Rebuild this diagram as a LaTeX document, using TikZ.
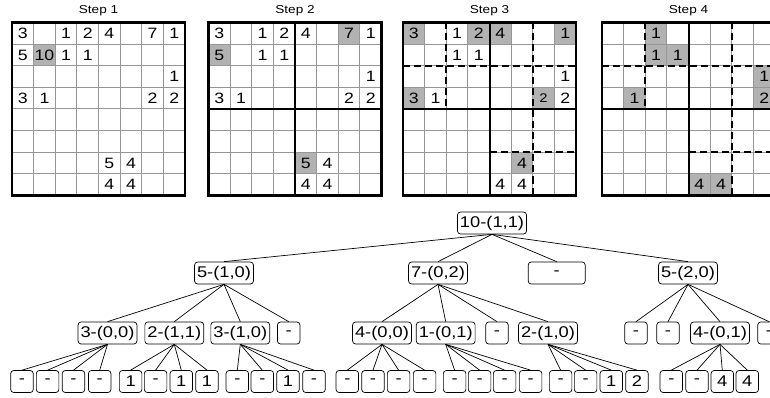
\documentclass[tikz,border=0pt]{standalone}
\usepackage{fontspec}
\setmainfont{Liberation Sans}
\newfontfamily\wsf[FakeStretch=1.18]{Liberation Sans}
\definecolor{cellgray}{RGB}{178,178,178}
\definecolor{linegray}{RGB}{150,150,150}
\def\cw{21.625}
\tikzset{
  numtxt/.style={font=\wsf\fontsize{15}{15}\selectfont, inner sep=0pt},
  smallnum/.style={font=\wsf\fontsize{12.5}{13}\selectfont, inner sep=0pt},
  tbox/.style={draw, line width=0.7pt, rounded corners=3pt, font=\wsf\fontsize{15.5}{16}\selectfont, minimum height=22pt, minimum width=22.5pt, inner xsep=2.5pt, inner ysep=0pt},
  lvlone/.style={tbox, minimum width=57pt},
  edge/.style={line width=0.7pt},
  gridthin/.style={linegray, line width=1pt},
  thickline/.style={line width=2pt},
  border/.style={line width=2.6pt},
  dashline/.style={line width=2.2pt, dash pattern=on 7pt off 4pt},
  title/.style={font=\wsf\fontsize{11.5}{12}\selectfont, inner sep=0pt}
}
\newcommand\gfill[2]{\fill[cellgray] ({#2*\cw},{#1*\cw}) rectangle ++(\cw,\cw);}
\newcommand\gnum[4]{\node[numtxt] (#1) at ({(#3+0.5)*\cw},{(#2+0.5)*\cw}) {#4};}
\newcommand\glines{%
  \foreach \i in {1,...,7} {
    \draw[gridthin] ({\i*\cw},0) -- ({\i*\cw},173);
    \draw[gridthin] (0,{\i*\cw}) -- (173,{\i*\cw});
  }}
\newcommand\gmid{%
  \draw[thickline] ({4*\cw},0) -- ({4*\cw},173);
  \draw[thickline] (0,{4*\cw}) -- (173,{4*\cw});}
\newcommand\gdash{%
  \draw[dashline] ({2*\cw},0) -- ({2*\cw},{4*\cw});
  \draw[dashline] (0,{2*\cw}) -- ({8*\cw},{2*\cw});
  \draw[dashline] ({6*\cw},0) -- ({6*\cw},{8*\cw});
  \draw[dashline] ({4*\cw},{6*\cw}) -- ({8*\cw},{6*\cw});}
\newcommand\leaf[4]{\node[tbox] (#1) at (#2,381.5) {#3}; \draw[edge] (#4.south) -- (#1.north);}
\begin{document}
\begin{tikzpicture}[x=1pt,y=-1pt]
\useasboundingbox (0,0) rectangle (770,398);
\fill[white] (0,0) rectangle (770,398);

% ---------- Step 1
\begin{scope}[shift={(12,22.5)}]
  \node[title] (t1) at (86.5,-11.5) {Step 1};
  \gfill{1}{1}
  \glines
  \draw[border] (0,0) rectangle (173,173);
  \gnum{a00}{0}{0}{3}\gnum{a02}{0}{2}{1}\gnum{a03}{0}{3}{2}\gnum{a04}{0}{4}{4}\gnum{a06}{0}{6}{7}\gnum{a07}{0}{7}{1}
  \gnum{a10}{1}{0}{5}\gnum{a11}{1}{1}{10}\gnum{a12}{1}{2}{1}\gnum{a13}{1}{3}{1}
  \gnum{a27}{2}{7}{1}
  \gnum{a30}{3}{0}{3}\gnum{a31}{3}{1}{1}\gnum{a36}{3}{6}{2}\gnum{a37}{3}{7}{2}
  \gnum{a64}{6}{4}{5}\gnum{a65}{6}{5}{4}
  \gnum{a74}{7}{4}{4}\gnum{a75}{7}{5}{4}
\end{scope}

% ---------- Step 2
\begin{scope}[shift={(208.5,22.5)}]
  \node[title] (t2) at (86.5,-11.5) {Step 2};
  \gfill{1}{0}\gfill{0}{6}\gfill{6}{4}
  \glines
  \gmid
  \draw[border] (0,0) rectangle (173,173);
  \gnum{b00}{0}{0}{3}\gnum{b02}{0}{2}{1}\gnum{b03}{0}{3}{2}\gnum{b04}{0}{4}{4}\gnum{b06}{0}{6}{7}\gnum{b07}{0}{7}{1}
  \gnum{b10}{1}{0}{5}\gnum{b12}{1}{2}{1}\gnum{b13}{1}{3}{1}
  \gnum{b27}{2}{7}{1}
  \gnum{b30}{3}{0}{3}\gnum{b31}{3}{1}{1}\gnum{b36}{3}{6}{2}\gnum{b37}{3}{7}{2}
  \gnum{b64}{6}{4}{5}\gnum{b65}{6}{5}{4}
  \gnum{b74}{7}{4}{4}\gnum{b75}{7}{5}{4}
\end{scope}

% ---------- Step 3
\begin{scope}[shift={(403,22.5)}]
  \node[title] (t3) at (86.5,-11.5) {Step 3};
  \gfill{0}{0}\gfill{0}{3}\gfill{0}{4}\gfill{0}{7}\gfill{3}{0}\gfill{3}{6}\gfill{6}{5}
  \glines
  \gdash
  \gmid
  \draw[border] (0,0) rectangle (173,173);
  \gnum{c00}{0}{0}{3}\gnum{c02}{0}{2}{1}\gnum{c03}{0}{3}{2}\gnum{c04}{0}{4}{4}\gnum{c07}{0}{7}{1}
  \gnum{c12}{1}{2}{1}\gnum{c13}{1}{3}{1}
  \gnum{c27}{2}{7}{1}
  \gnum{c30}{3}{0}{3}\gnum{c31}{3}{1}{1}\node[smallnum] (c36) at ({6.5*\cw},{3.5*\cw}) {2};\gnum{c37}{3}{7}{2}
  \gnum{c65}{6}{5}{4}
  \gnum{c74}{7}{4}{4}\gnum{c75}{7}{5}{4}
\end{scope}

% ---------- Step 4
\begin{scope}[shift={(602,22.5)}]
  \node[title] (t4) at (86.5,-11.5) {Step 4};
  \gfill{0}{2}\gfill{1}{2}\gfill{1}{3}\gfill{2}{7}\gfill{3}{1}\gfill{3}{7}\gfill{7}{4}\gfill{7}{5}
  \glines
  \gdash
  \gmid
  \draw[border] (0,0) rectangle (173,173);
  \gnum{d02}{0}{2}{1}
  \gnum{d12}{1}{2}{1}\gnum{d13}{1}{3}{1}
  \gnum{d27}{2}{7}{1}
  \gnum{d31}{3}{1}{1}\gnum{d37}{3}{7}{2}
  \gnum{d74}{7}{4}{4}\gnum{d75}{7}{5}{4}
\end{scope}

% ---------- Tree
\node[tbox] (root) at (492,223) {10-(1,1)};
\node[lvlone] (a) at (224,273) {5-(1,0)};
\node[lvlone] (b) at (438,273) {7-(0,2)};
\node[lvlone] (c) at (556.7,273) {-};
\node[lvlone] (d) at (688,273) {5-(2,0)};
\foreach \n in {a,b,c,d} \draw[edge] (root.south) -- (\n.north);

\node[tbox] (a1) at (107.5,333) {3-(0,0)};
\node[tbox] (a2) at (174.3,333) {2-(1,1)};
\node[tbox] (a3) at (240.3,333) {3-(1,0)};
\node[tbox] (a4) at (288.7,333) {-};
\node[tbox] (b1) at (382,333) {4-(0,0)};
\node[tbox] (b2) at (445.7,333) {1-(0,1)};
\node[tbox] (b3) at (497,333) {-};
\node[tbox] (b4) at (548,333) {2-(1,0)};
\node[tbox] (d1) at (636,333) {-};
\node[tbox] (d2) at (668,333) {-};
\node[tbox] (d3) at (720,333) {4-(0,1)};
\node[tbox] (d4) at (769,333) {-};
\foreach \n in {a1,a2,a3,a4} \draw[edge] (a.south) -- (\n.north);
\foreach \n in {b1,b2,b3,b4} \draw[edge] (b.south) -- (\n.north);
\foreach \n in {d1,d2,d3,d4} \draw[edge] (d.south) -- (\n.north);

\leaf{la1}{22}{-}{a1}\leaf{la2}{47.6}{-}{a1}\leaf{la3}{73.5}{-}{a1}\leaf{la4}{99.7}{-}{a1}
\leaf{lb1}{130.6}{1}{a2}\leaf{lb2}{155.6}{-}{a2}\leaf{lb3}{181.3}{1}{a2}\leaf{lb4}{207}{1}{a2}
\leaf{lc1}{237.3}{-}{a3}\leaf{lc2}{262.3}{-}{a3}\leaf{lc3}{288}{1}{a3}\leaf{lc4}{314}{-}{a3}
\leaf{ld1}{347.3}{-}{b1}\leaf{ld2}{373}{-}{b1}\leaf{ld3}{398.6}{-}{b1}\leaf{ld4}{424.6}{-}{b1}
\leaf{le1}{454.6}{-}{b2}\leaf{le2}{479.6}{-}{b2}\leaf{le3}{504.6}{-}{b2}\leaf{le4}{530.6}{-}{b2}
\leaf{lf1}{560.6}{-}{b4}\leaf{lf2}{585.6}{-}{b4}\leaf{lf3}{611.3}{1}{b4}\leaf{lf4}{637}{2}{b4}
\leaf{lg1}{671.3}{-}{d3}\leaf{lg2}{697}{-}{d3}\leaf{lg3}{722.3}{4}{d3}\leaf{lg4}{747.3}{4}{d3}
\end{tikzpicture}
\end{document}
